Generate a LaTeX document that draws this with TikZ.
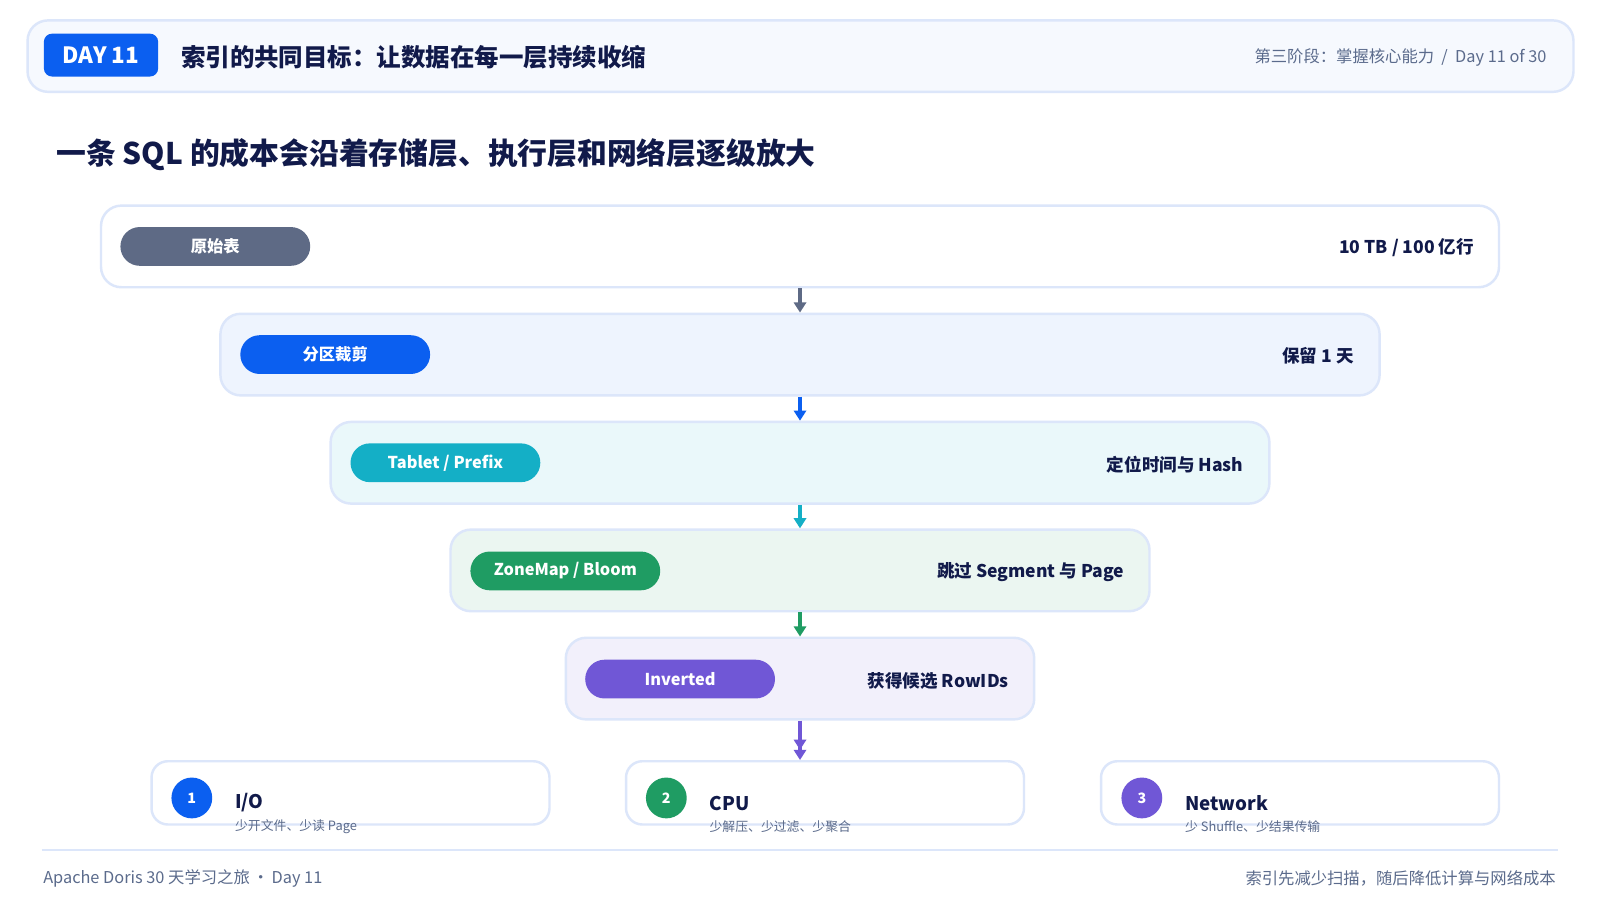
\documentclass[tikz,border=0pt]{standalone}
\usepackage{fontspec}
\setmainfont{Noto Sans CJK SC}
\usepackage{tikz}
\definecolor{ink}{HTML}{111A4A}
\definecolor{muted}{HTML}{5B6B8C}
\definecolor{edge}{HTML}{DCE6FA}
\definecolor{cslate}{HTML}{5E6A85}
\definecolor{cblue}{HTML}{0B5FF0}
\definecolor{ccyan}{HTML}{14AFC6}
\definecolor{cgreen}{HTML}{1F9C63}
\definecolor{cviolet}{HTML}{7057D6}
\usetikzlibrary{arrows.meta,positioning,calc}
\tikzset{
  >={Triangle[length=5pt,width=6pt]},
  every node/.style={text=ink, inner sep=0pt},
  layer/.style={draw=edge, line width=1.2pt, rounded corners=10pt, minimum height=40pt},
  pill/.style={rounded corners=9.5pt, text=white, font=\fontsize{8}{10}\selectfont\bfseries, minimum width=93pt, minimum height=19pt},
  rtext/.style={font=\fontsize{8.6}{11}\selectfont\bfseries, anchor=east},
  flow/.style={->, line width=1.6pt},
  card/.style={draw=edge, line width=1.2pt, rounded corners=8pt, fill=white, minimum width=195pt, minimum height=31pt},
  num/.style={circle, minimum size=20pt, text=white, font=\fontsize{7}{8}\selectfont\bfseries},
  ctitle/.style={font=\fontsize{9.2}{11}\selectfont\bfseries, anchor=west},
  csub/.style={font=\fontsize{6.3}{8}\selectfont, text=muted, anchor=west}
}
\begin{document}
\begin{tikzpicture}[x=0.5pt,y=-0.5pt]
  \useasboundingbox[fill=white] (0,0) rectangle (1568,882);

  % header
  \draw[edge, line width=1.2pt, fill=edge!25, rounded corners=10pt] (27,20) rectangle (1542,90);
  \node[fill=cblue, rounded corners=4pt, minimum width=56pt, minimum height=21pt,
    text=white, font=\fontsize{11}{13}\selectfont\bfseries] (day) at (99,54) {DAY 11};
  \node[anchor=west, font=\fontsize{12}{14}\selectfont\bfseries] (title) at (177,56)
    {索引的共同目标：让数据在每一层持续收缩};
  \node[anchor=east, text=muted, font=\fontsize{8}{10}\selectfont] (stage) at (1516,56)
    {第三阶段：掌握核心能力 \ / \ Day 11 of 30};
  \node[anchor=west, font=\fontsize{14.6}{18}\selectfont\bfseries] (sub) at (55,152)
    {一条 SQL 的成本会沿着存储层、执行层和网络层逐级放大};

  % layers
  \node[layer, fill=white, minimum width=685pt] (l1) at (784,241.5) {};
  \node[layer, fill=cblue!7, minimum width=568pt] (l2) at (784,347.5) {};
  \node[layer, fill=ccyan!9, minimum width=460pt] (l3) at (784,453.5) {};
  \node[layer, fill=cgreen!9, minimum width=342.5pt] (l4) at (784,559) {};
  \node[layer, fill=cviolet!9, minimum width=229.5pt] (l5) at (784,665) {};

  \node[pill, fill=cslate] (p1) at (211,241.5) {原始表};
  \node[pill, fill=cblue] (p2) at (328.5,347.5) {分区裁剪};
  \node[pill, fill=ccyan] (p3) at (436.5,453.5) {Tablet / Prefix};
  \node[pill, fill=cgreen] (p4) at (554,559.5) {ZoneMap / Bloom};
  \node[pill, fill=cviolet] (p5) at (666.5,665.5) {Inverted};

  \node[rtext] (r1) at (1445,243) {10 TB / 100 亿行};
  \node[rtext] (r2) at (1327,349) {保留 1 天};
  \node[rtext] (r3) at (1219,455) {定位时间与 Hash};
  \node[rtext] (r4) at (1102,561) {跳过 Segment 与 Page};
  \node[rtext] (r5) at (989,667) {获得候选 RowIDs};

  \draw[flow, cslate] (l1) -- (l2);
  \draw[flow, cblue] (l2) -- (l3);
  \draw[flow, ccyan] (l3) -- (l4);
  \draw[flow, cgreen] (l4) -- (l5);

  % result cards
  \node[card] (c1) at (343.5,777) {};
  \node[card] (c2) at (808.5,777) {};
  \node[card] (c3) at (1274,777) {};
  \draw[flow, cviolet, -{Triangle[length=5pt,width=6pt] Triangle[length=5pt,width=6pt]}] (l5) -- (l5.south |- c2.north);

  \node[num, fill=cblue] (n1) at (188,782) {1};
  \node[num, fill=cgreen] (n2) at (653,782) {2};
  \node[num, fill=cviolet] (n3) at (1119,782) {3};
  \node[ctitle] (t1) at (230,787) {I/O};
  \node[ctitle] (t2) at (695,787) {CPU};
  \node[ctitle] (t3) at (1161,787) {Network};
  \node[csub] (s1) at (230,810) {少开文件、少读 Page};
  \node[csub] (s2) at (695,810) {少解压、少过滤、少聚合};
  \node[csub] (s3) at (1161,810) {少 Shuffle、少结果传输};

  % footer
  \draw[edge, line width=1.2pt] (41,833) -- (1527,833);
  \node[anchor=west, text=muted, font=\fontsize{8}{10}\selectfont] (fl) at (42,861)
    {Apache Doris 30 天学习之旅\,·\,Day 11};
  \node[anchor=east, text=muted, font=\fontsize{8}{10}\selectfont] (fr) at (1525,861)
    {索引先减少扫描，随后降低计算与网络成本};
\end{tikzpicture}
\end{document}
